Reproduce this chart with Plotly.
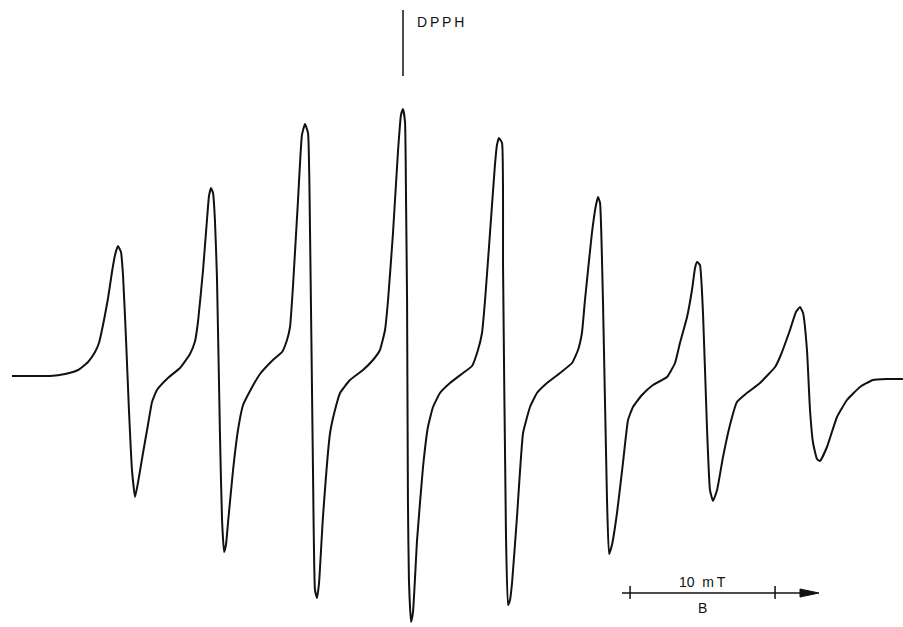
import plotly.graph_objects as go

# Magnetic field relative to the DPPH marker (mT)
field_mT = [
    -26.97, -25.72, -24.34, -23.31, -22.41, -21.72, -21.24, -20.97, -20.62, -20.34,
    -20.07, -19.86, -19.66, -19.45, -19.31, -19.10, -18.90, -18.69, -18.48, -18.28,
    -17.93, -17.59, -17.31, -16.97, -16.21, -15.38, -14.69, -14.34, -14.14, -13.79,
    -13.52, -13.38, -13.24, -13.10, -12.97, -12.83, -12.62, -12.48, -12.34, -12.21,
    -12.07, -11.72, -11.38, -11.03, -10.55, -9.86, -8.97, -8.34, -8.00, -7.79,
    -7.59, -7.24, -6.97, -6.76, -6.55, -6.41, -6.21, -6.07, -5.93, -5.79,
    -5.52, -5.03, -4.69, -4.34, -3.66, -2.76, -2.07, -1.59, -1.24, -1.03,
    -0.69, -0.34, -0.14, 0.00, 0.14, 0.21, 0.28, 0.34, 0.41, 0.55,
    0.69, 0.97, 1.38, 1.72, 2.07, 2.55, 3.24, 4.14, 4.76, 5.17,
    5.45, 5.66, 6.00, 6.34, 6.48, 6.62, 6.83, 6.90, 7.10, 7.24,
    7.38, 7.52, 7.86, 8.28, 8.76, 9.24, 9.93, 10.83, 11.66, 12.07,
    12.34, 12.55, 13.03, 13.31, 13.45, 13.59, 13.79, 14.07, 14.21, 14.41,
    14.76, 15.17, 15.52, 15.86, 16.48, 17.24, 18.21, 18.76, 19.10, 19.59,
    19.93, 20.14, 20.28, 20.48, 20.69, 20.97, 21.17, 21.38, 21.66, 22.07,
    22.55, 23.03, 23.72, 24.62, 25.66, 26.00, 26.69, 27.10, 27.38, 27.59,
    27.86, 28.07, 28.28, 28.55, 28.76, 29.24, 29.93, 30.62, 31.52, 32.41,
    33.38, 34.48,
]

# First-derivative EPR signal (arbitrary units)
signal = [
    2, 2, 2, 4, 8, 16, 26, 35, 58, 80,
    106, 123, 132, 126, 103, 38, -32, -92, -119, -105,
    -75, -47, -24, -12, 0, 10, 24, 37, 56, 108,
    158, 182, 190, 185, 158, 101, -59, -142, -174, -167,
    -145, -92, -52, -27, -13, 4, 18, 26, 38, 51,
    91, 178, 243, 254, 245, 145, -89, -212, -220, -205,
    -139, -55, -32, -15, -2, 8, 18, 28, 48, 78,
    145, 228, 263, 269, 256, 178, 78, -122, -202, -244,
    -234, -162, -89, -49, -29, -15, -5, 5, 12, 28,
    45, 78, 145, 213, 233, 240, 235, 111, -155, -227,
    -222, -205, -139, -55, -29, -15, -5, 5, 15, 28,
    45, 78, 145, 173, 181, 175, 78, -122, -176, -167,
    -135, -85, -42, -29, -17, -7, 1, 15, 35, 61,
    88, 110, 116, 113, 65, -52, -112, -123, -112, -79,
    -47, -24, -15, -5, 11, 21, 48, 66, 71, 65,
    28, -32, -65, -81, -83, -69, -39, -22, -9, -2,
    -1, -1,
]
assert len(field_mT) == len(signal)

dpph_field = 0.0
scale_bar_mT = 10
scale_start, scale_tip = 15.10, 28.69
tick_left = 15.66
tick_right = tick_left + scale_bar_mT

INK = "#111111"

fig = go.Figure()
fig.add_trace(go.Scatter(
    x=field_mT, y=signal, mode="lines",
    line=dict(color=INK, width=2, shape="spline", smoothing=0.4),
    hoverinfo="skip", showlegend=False,
))

bar_y = -215
shapes = [
    # DPPH marker
    dict(type="line", xref="x", yref="y", x0=dpph_field, x1=dpph_field, y0=302, y1=368,
         line=dict(color=INK, width=1.5)),
    # scale bar
    dict(type="line", xref="x", yref="y", x0=scale_start, x1=27.6, y0=bar_y, y1=bar_y,
         line=dict(color=INK, width=1.5)),
    dict(type="line", xref="x", yref="y", x0=tick_left, x1=tick_left, y0=bar_y + 7, y1=bar_y - 6,
         line=dict(color=INK, width=1.5)),
    dict(type="line", xref="x", yref="y", x0=tick_right, x1=tick_right, y0=bar_y + 7, y1=bar_y - 6,
         line=dict(color=INK, width=1.5)),
    dict(type="path", xref="x", yref="y",
         path=f"M 27.38 {bar_y + 4} L {scale_tip} {bar_y} L 27.38 {bar_y - 4} Z",
         fillcolor=INK, line=dict(color=INK, width=1)),
]

annotations = [
    dict(x=0.83, y=356, xref="x", yref="y", text="D\u2009P\u2009P\u2009H", showarrow=False,
         xanchor="left", yanchor="middle", font=dict(family="Liberation Sans, Arial", size=14, color=INK)),
    dict(x=(tick_left + tick_right) / 2, y=-204, xref="x", yref="y",
         text="10\u00a0\u00a0m\u2009T", showarrow=False, xanchor="center", yanchor="middle",
         font=dict(family="Liberation Sans, Arial", size=14, color=INK)),
    dict(x=(tick_left + tick_right) / 2, y=-230, xref="x", yref="y", text="B", showarrow=False,
         xanchor="center", yanchor="middle",
         font=dict(family="Liberation Sans, Arial", size=14, color=INK)),
]

fig.update_layout(
    width=903, height=627,
    margin=dict(l=0, r=0, t=0, b=0),
    paper_bgcolor="white", plot_bgcolor="white",
    xaxis=dict(range=[-403 / 14.5, 500 / 14.5], visible=False, fixedrange=True),
    yaxis=dict(range=[-249, 378], visible=False, fixedrange=True),
    shapes=shapes, annotations=annotations,
    showlegend=False,
)

fig.write_html(
    "out.html",
    config={"displayModeBar": False},
    post_script="document.body.style.margin='0px';document.body.style.overflow='hidden';",
)
